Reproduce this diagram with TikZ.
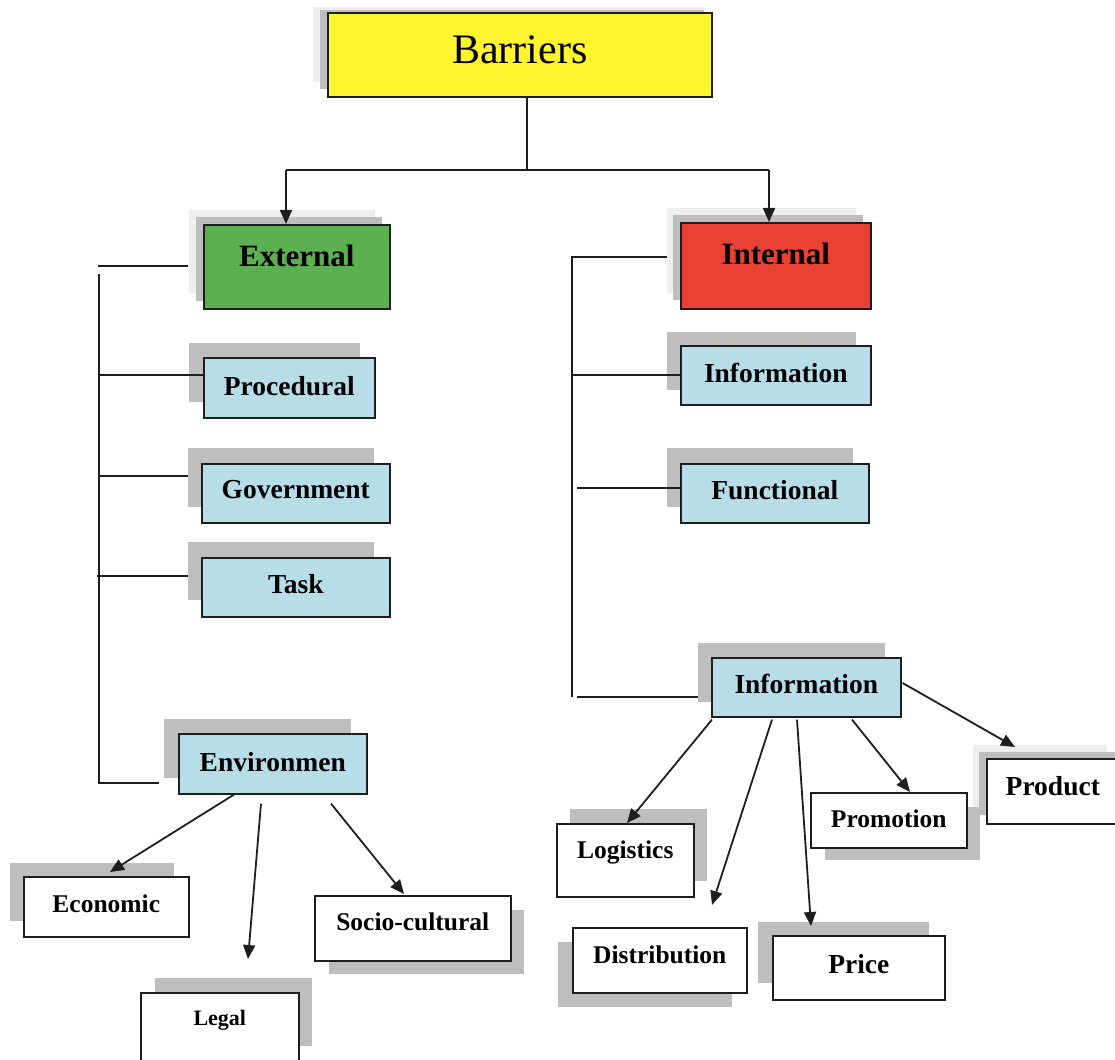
\documentclass[tikz,border=0pt]{standalone}
\usepackage{fontspec}
\setmainfont{Liberation Serif}
\usetikzlibrary{arrows.meta,calc}
\definecolor{byellow}{HTML}{FFF52E}
\definecolor{bgreen}{HTML}{5CB052}
\definecolor{bred}{HTML}{E94134}
\definecolor{bblue}{HTML}{B7DDE8}
\definecolor{shdark}{HTML}{BEBEBE}
\definecolor{shlight}{HTML}{EEEEEE}
\definecolor{ink}{HTML}{1E1E1E}
\tikzset{
  boxbase/.style={draw=ink, line width=1.6pt, inner sep=0pt, align=center},
  tree/.style={draw=ink, line width=1.6pt},
  arr/.style={draw=ink, line width=1.8pt, -{Triangle[length=14pt,width=12pt]}},
}
\newcommand\bx[9]{%
  \pgfmathsetmacro\bw{#4-#2}\pgfmathsetmacro\bth{#6-#3}\pgfmathsetmacro\btd{#5-#6}%
  \node[boxbase,fill=#7,font=#8,minimum width=\bw pt,text height=\bth pt,text depth=\btd pt,anchor=north west] (#1) at (#2,#3) {#9};}
\newcommand\shd[5]{\fill[#5] (#1,#2) rectangle (#3,#4);}
\newcommand\fA{\fontsize{42}{46}\selectfont}
\newcommand\fB{\fontsize{31}{34}\selectfont\bfseries}
\newcommand\fC{\fontsize{27.5}{30}\selectfont\bfseries}
\newcommand\fD{\fontsize{25.5}{28}\selectfont\bfseries}
\newcommand\fE{\fontsize{22}{25}\selectfont\bfseries}
\begin{document}
\begin{tikzpicture}[x=1pt,y=-1pt]
\useasboundingbox (0,0) rectangle (1115,1059);
% tree lines drawn beneath shadows
\coordinate (lt1) at (98,266);  \coordinate (lt2) at (188,266);
\coordinate (lv1) at (99,274);  \coordinate (lv2) at (99,783); \coordinate (lv3) at (159,783);
\coordinate (lg) at (99,476);   \coordinate (lk) at (97,576);
\coordinate (rt1) at (672,257); \coordinate (rt2) at (572,257); \coordinate (rv2) at (572,697);
\coordinate (ri2) at (577,697);
\draw[tree] (lt1) -- (lt2);
\draw[tree] (lv1) -- (lv2) -- (lv3);
\draw[tree] (lg) -- (188,476);
\draw[tree] (lk) -- (188,576);
\draw[tree] (rt1) -- (rt2) -- (rv2);
\draw[tree] (ri2) -- (700,697);
% shadows
\shd{313}{7}{704}{82}{shlight}\shd{320}{10}{704}{89}{shdark}
\shd{189}{210}{375}{293}{shlight}\shd{196}{217}{382}{301}{shdark}
\shd{667}{208}{856}{293}{shlight}\shd{673}{215}{863}{300}{shdark}
\shd{973}{745}{1107}{808}{shlight}\shd{979}{752}{1115}{815}{shdark}
\shd{189}{343}{360}{402}{shdark}
\shd{188}{448}{374}{507}{shdark}
\shd{188}{542}{374}{600}{shdark}
\shd{164}{719}{351}{778}{shdark}
\shd{667}{332}{856}{390}{shdark}
\shd{667}{448}{853}{507}{shdark}
\shd{698}{643}{885}{702}{shdark}
\shd{10}{863}{174}{921}{shdark}
\shd{155}{978}{312}{1046}{shdark}
\shd{329}{910}{524}{974}{shdark}
\shd{570}{809}{707}{881}{shdark}
\shd{558}{942}{732}{1007}{shdark}
\shd{758}{922}{929}{983}{shdark}
\shd{825}{807}{980}{860}{shdark}
% boxes: name, left, top, right, bottom, baseline, fill, font, text
\bx{barriers}{327}{12}{711}{96}{63}{byellow}{\fA}{Barriers}
\bx{external}{203}{224}{389}{308}{266}{bgreen}{\fB}{External}
\bx{internal}{680}{222}{870}{308}{264}{bred}{\fB}{Internal}
\bx{procedural}{203}{357}{374}{417}{395}{bblue}{\fC}{Procedural}
\bx{government}{201}{463}{389}{522}{498}{bblue}{\fC}{Government}
\bx{task}{201}{557}{389}{616}{593}{bblue}{\fC}{Task}
\bx{environmen}{178}{733}{366}{793}{771}{bblue}{\fC}{Environmen}
\bx{infoA}{680}{345}{870}{404}{382}{bblue}{\fC}{Information}
\bx{functional}{680}{463}{868}{522}{499}{bblue}{\fC}{Functional}
\bx{infoB}{711}{657}{900}{716}{693}{bblue}{\fC}{Information}
\bx{economic}{23}{876}{188}{936}{912}{white}{\fD}{Economic}
\bx{legal}{140}{992}{298}{1075}{1025}{white}{\fE}{Legal}
\bx{socio}{314}{895}{510}{960}{930}{white}{\fD}{Socio-cultural}
\bx{logistics}{556}{823}{693}{896}{858}{white}{\fD}{Logistics}
\bx{distribution}{572}{927}{746}{992}{963}{white}{\fD}{Distribution}
\bx{price}{772}{935}{944}{999}{973}{white}{\fC}{Price}
\bx{promotion}{810}{792}{966}{847}{827}{white}{\fD}{Promotion}
\bx{product}{986}{758}{1118}{823}{795}{white}{\fC}{Product}
% tree lines drawn over shadows
\coordinate (lp) at (99,375); \coordinate (ri) at (572,375); \coordinate (rf) at (577,488);
\draw[tree] (lp) -- (lp -| procedural.west);
\draw[tree] (ri) -- (ri -| infoA.west);
\draw[tree] (rf) -- (rf -| functional.west);
% top connectors
\coordinate (j) at (527,170); \coordinate (jl) at (286,170); \coordinate (jr) at (769,170);
\draw[tree] (barriers.south -| j) -- (j);
\draw[tree] (jl) -- (jr);
\draw[arr] (jl) -- (external.north -| jl);
\draw[arr] (jr) -- (internal.north -| jr);
% environment arrows
\draw[arr] ($(environmen.south west)+(56,0)$) -- ($(economic.north west)+(87,-4)$);
\draw[arr] ($(environmen.south west)+(83,9)$) -- ($(legal.north west)+(108,-33)$);
\draw[arr] ($(environmen.south west)+(153,9)$) -- ($(socio.north west)+(90,-1)$);
% information arrows
\draw[arr] ($(infoB.south west)+(1,2)$) -- ($(logistics.north west)+(71,0)$);
\draw[arr] ($(infoB.south west)+(61,2)$) -- ($(distribution.north west)+(140,-22)$);
\draw[arr] ($(infoB.south west)+(86,2)$) -- ($(price.north west)+(39,-9)$);
\draw[arr] ($(infoB.south west)+(141,2)$) -- ($(promotion.north west)+(100,0)$);
\draw[arr] ($(infoB.north east)+(1,26)$) -- ($(product.north west)+(29,-11)$);
\end{tikzpicture}
\end{document}
